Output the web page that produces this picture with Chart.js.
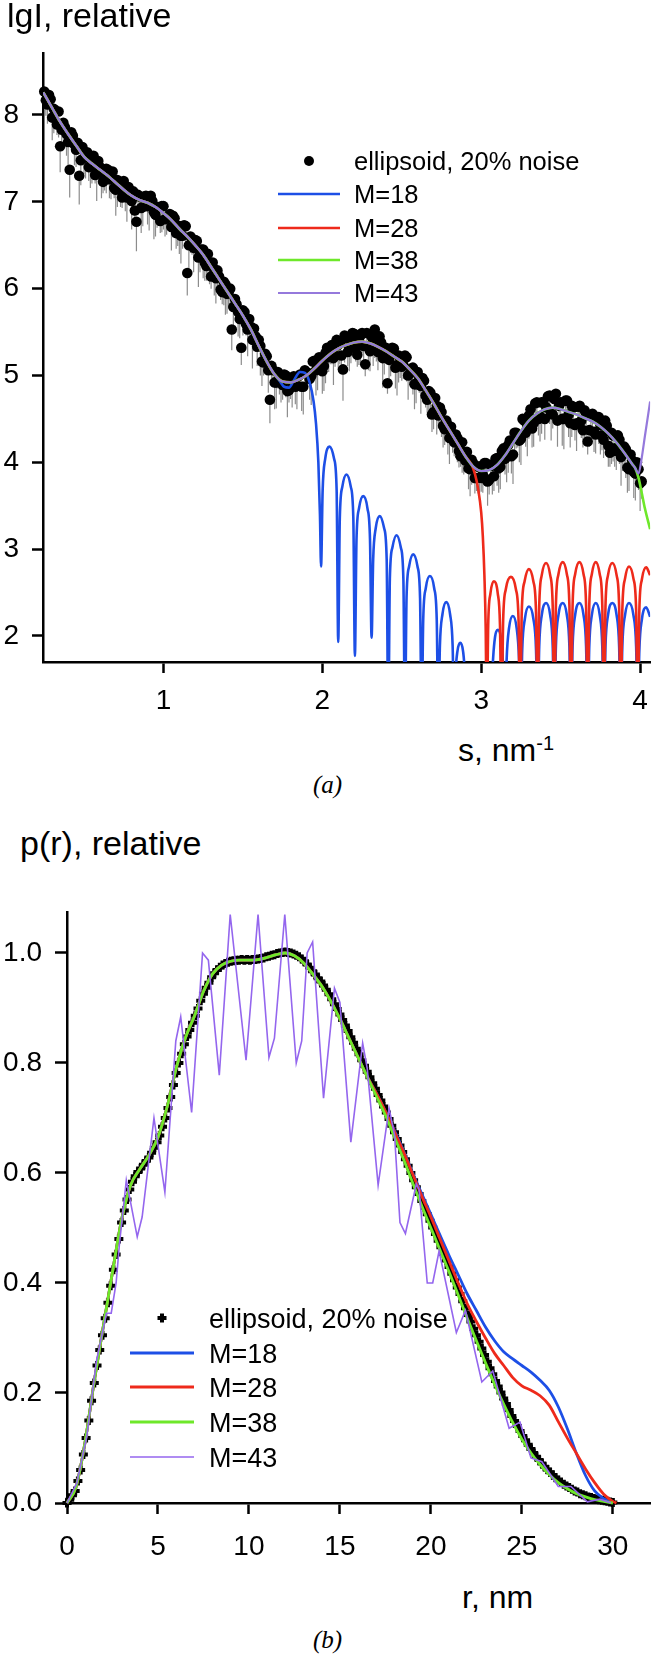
<!DOCTYPE html>
<html>
<head>
<meta charset="utf-8">
<script src="https://cdn.jsdelivr.net/npm/chart.js@4.4.1/dist/chart.umd.min.js"></script>
<style>
  body { margin: 0; background: #fff; }
  #page { position: relative; width: 659px; height: 1654px; overflow: hidden; background: #fff; font-family: "Liberation Sans", Arial, sans-serif; color: #000; }
  canvas { position: absolute; left: 0; }
  .t { position: absolute; line-height: 1; white-space: nowrap; }
  .it { font-family: "Liberation Serif", "Times New Roman", serif; font-style: italic; }
</style>
</head>
<body>
<div id="page">
  <canvas id="graphA" width="659" height="730" style="top:0"></canvas>
  <canvas id="graphB" width="659" height="700" style="top:870px"></canvas>
  <div class="t" style="left:7px;top:-2px;font-size:34px">lgI, relative</div>
  <div class="t" style="left:458px;top:733px;font-size:32px">s, nm<span style="font-size:20px;vertical-align:11px">-1</span></div>
  <div class="t it" style="left:313px;top:772px;font-size:25px">(a)</div>
  <div class="t" style="left:20px;top:826px;font-size:34px">p(r), relative</div>
  <div class="t" style="left:462px;top:1581px;font-size:32px">r, nm</div>
  <div class="t it" style="left:313px;top:1627px;font-size:25px">(b)</div>
</div>
<script>
var FONT = '"Liberation Sans", Arial, sans-serif'
var BLUE = '#1d4fe6', RED = '#ee2a1b', GREEN = '#6ee82a'

// ---- panel (a) : lgI(s) ----
var ticksAx = [1, 2, 3, 4]
var ticksAy = [2, 3, 4, 5, 6, 7, 8]

// measured points, s in nm-1 (two interleaved runs)
var sA = [0.25,0.27,0.29,0.31,0.33,0.35,0.37,0.39,0.41,0.43,
  0.45,0.47,0.49,0.51,0.53,0.55,0.57,0.59,0.61,0.63,
  0.65,0.67,0.69,0.71,0.73,0.75,0.77,0.79,0.81,0.83,
  0.85,0.87,0.89,0.91,0.93,0.95,0.97,0.99,1.01,1.03,
  1.05,1.07,1.09,1.11,1.13,1.15,1.17,1.19,1.21,1.23,
  1.25,1.27,1.29,1.31,1.33,1.35,1.37,1.39,1.41,1.43,
  1.45,1.47,1.49,1.51,1.53,1.55,1.57,1.59,1.61,1.63,
  1.65,1.67,1.69,1.71,1.73,1.75,1.77,1.79,1.81,1.83,
  1.85,1.87,1.89,1.91,1.93,1.95,1.97,1.99,2.01,2.03,
  2.05,2.07,2.09,2.11,2.13,2.15,2.17,2.19,2.21,2.23,
  2.25,2.27,2.29,2.31,2.33,2.35,2.37,2.39,2.41,2.43,
  2.45,2.47,2.49,2.51,2.53,2.55,2.57,2.59,2.61,2.63,
  2.65,2.67,2.69,2.71,2.73,2.75,2.77,2.79,2.81,2.83,
  2.85,2.87,2.89,2.91,2.93,2.95,2.97,2.99,3.01,3.03,
  3.05,3.07,3.09,3.11,3.13,3.15,3.17,3.19,3.21,3.23,
  3.25,3.27,3.29,3.31,3.33,3.35,3.37,3.39,3.41,3.43,
  3.45,3.47,3.49,3.51,3.53,3.55,3.57,3.59,3.61,3.63,
  3.65,3.67,3.69,3.71,3.73,3.75,3.77,3.79,3.81,3.83,
  3.85,3.87,3.89,3.91,3.93,3.95,3.97,3.99,4.01]
var iA = [8.27,8.12,8.18,8.07,7.89,7.64,7.91,7.78,7.37,7.76,
  7.60,7.30,7.63,7.51,7.40,7.48,7.31,7.47,7.34,7.27,
  7.37,7.29,7.16,7.25,7.14,7.24,7.05,7.07,7.12,6.77,
  7.06,6.94,7.07,6.96,7.01,6.85,6.94,6.95,6.80,6.84,
  6.71,6.81,6.72,6.61,6.73,6.18,6.60,6.47,6.55,6.41,
  6.45,6.26,6.30,6.30,6.12,6.14,5.96,6.05,5.95,5.53,
  5.88,5.73,5.32,5.73,5.53,5.56,5.54,5.33,5.34,5.15,
  5.22,4.72,5.06,4.92,5.01,4.89,5.00,4.83,4.95,4.87,
  4.99,4.87,5.06,5.03,4.99,5.17,5.09,5.20,5.11,5.32,
  5.27,5.20,5.41,5.37,5.07,5.43,5.32,5.49,5.32,5.42,
  5.49,5.13,5.34,5.45,5.53,5.27,5.38,5.27,4.91,5.29,
  5.31,5.12,5.21,5.12,5.21,5.02,5.09,4.90,4.97,4.97,
  4.77,4.82,4.55,4.74,4.54,4.58,4.38,4.43,4.41,4.23,
  4.28,4.07,4.12,4.12,3.92,3.99,3.82,3.95,3.86,3.99,
  3.80,3.96,4.04,3.93,4.13,4.04,4.20,4.07,4.34,4.32,
  4.27,4.48,4.42,4.61,4.45,4.69,4.53,4.69,4.63,4.77,
  4.55,4.79,4.65,4.50,4.71,4.55,4.65,4.43,4.64,4.48,
  4.60,4.24,4.53,4.35,4.52,4.43,4.26,4.42,4.11,4.31,
  4.13,4.26,4.09,4.15,3.92,4.02,3.87,3.92,3.78]
var sA2 = [0.26,0.28,0.30,0.32,0.34,0.36,0.38,0.40,0.42,0.44,
  0.46,0.48,0.50,0.52,0.54,0.56,0.58,0.60,0.62,0.64,
  0.66,0.68,0.70,0.72,0.74,0.76,0.78,0.80,0.82,0.84,
  0.86,0.88,0.90,0.92,0.94,0.96,0.98,1.00,1.02,1.04,
  1.06,1.08,1.10,1.12,1.14,1.16,1.18,1.20,1.22,1.24,
  1.26,1.28,1.30,1.32,1.34,1.36,1.38,1.40,1.42,1.44,
  1.46,1.48,1.50,1.52,1.54,1.56,1.58,1.60,1.62,1.64,
  1.66,1.68,1.70,1.72,1.74,1.76,1.78,1.80,1.82,1.84,
  1.86,1.88,1.90,1.92,1.94,1.96,1.98,2.00,2.02,2.04,
  2.06,2.08,2.10,2.12,2.14,2.16,2.18,2.20,2.22,2.24,
  2.26,2.28,2.30,2.32,2.34,2.36,2.38,2.40,2.42,2.44,
  2.46,2.48,2.50,2.52,2.54,2.56,2.58,2.60,2.62,2.64,
  2.66,2.68,2.70,2.72,2.74,2.76,2.78,2.80,2.82,2.84,
  2.86,2.88,2.90,2.92,2.94,2.96,2.98,3.00,3.02,3.04,
  3.06,3.08,3.10,3.12,3.14,3.16,3.18,3.20,3.22,3.24,
  3.26,3.28,3.30,3.32,3.34,3.36,3.38,3.40,3.42,3.44,
  3.46,3.48,3.50,3.52,3.54,3.56,3.58,3.60,3.62,3.64,
  3.66,3.68,3.70,3.72,3.74,3.76,3.78,3.80,3.82,3.84,
  3.86,3.88,3.90,3.92,3.94,3.96,3.98,4.00]
var iA2 = [8.17,8.23,7.97,8.05,8.04,7.83,7.86,7.69,7.80,7.66,
  7.68,7.48,7.51,7.57,7.41,7.53,7.33,7.40,7.23,7.38,
  7.26,7.35,7.14,7.23,7.05,7.15,7.17,7.01,6.90,7.08,
  6.93,7.06,6.95,7.07,6.88,6.94,6.78,6.95,6.81,6.86,
  6.84,6.64,6.72,6.61,6.72,6.50,6.52,6.56,6.36,6.45,
  6.30,6.40,6.14,6.22,6.21,5.99,6.08,5.94,6.00,5.79,
  5.82,5.65,5.75,5.59,5.65,5.41,5.45,5.41,5.16,5.25,
  5.06,5.11,4.92,5.04,4.92,5.01,4.82,4.94,4.99,4.88,
  5.01,4.87,5.03,4.96,5.16,5.06,5.21,5.05,5.26,5.21,
  5.35,5.23,5.35,5.23,5.46,5.27,5.39,5.48,5.24,5.46,
  5.34,5.49,5.28,5.41,5.31,5.45,5.20,5.32,5.18,5.32,
  5.09,5.23,5.10,5.23,5.00,5.08,4.90,5.04,4.88,4.94,
  4.72,4.80,4.58,4.65,4.63,4.42,4.48,4.28,4.33,4.32,
  4.13,4.23,4.02,3.93,4.03,3.82,3.95,3.82,3.99,3.78,
  3.97,3.84,4.05,3.95,4.16,4.07,4.25,4.09,4.34,4.25,
  4.50,4.34,4.54,4.39,4.68,4.50,4.69,4.50,4.76,4.56,
  4.73,4.48,4.69,4.50,4.71,4.45,4.63,4.45,4.65,4.37,
  4.56,4.37,4.56,4.32,4.52,4.31,4.48,4.19,4.34,4.16,
  4.31,4.06,4.18,3.94,4.09,3.89,4.00,3.76]
// lower error bar lengths
var errA = [0.10,0.22,0.14,0.28,0.12,0.30,0.18,0.25,0.32,0.15,
  0.20,0.33,0.12,0.24,0.16,0.27,0.10,0.22,0.30,0.14,
  0.18,0.26,0.12,0.31,0.20,0.15,0.28,0.11,0.24,0.34,
  0.16,0.22,0.13,0.29,0.18,0.25,0.12,0.30,0.20,0.16,
  0.27,0.14,0.23,0.32,0.11,0.26,0.19,0.28,0.15,0.22,
  0.33,0.17,0.25,0.12,0.29,0.21,0.14,0.35,0.18,0.24,
  0.13,0.28,0.20,0.16,0.31,0.12,0.26,0.22,0.34,0.15,
  0.19,0.27,0.11,0.30,0.23,0.17,0.25,0.14,0.32,0.20,
  0.16,0.28,0.22,0.12,0.33,0.18,0.26,0.15,0.29,0.21,
  0.14,0.31,0.19,0.24,0.36,0.12,0.27,0.20,0.16,0.30,
  0.23,0.14,0.28,0.18,0.33,0.21,0.15,0.26,0.12,0.30,
  0.19,0.35,0.24,0.16,0.28,0.13,0.31,0.22,0.17,0.27,
  0.14,0.32,0.20,0.25,0.15,0.29,0.18,0.34,0.22,0.16,
  0.28,0.12,0.26,0.19,0.31,0.23,0.15,0.30,0.21,0.27,
  0.17,0.33,0.14,0.28,0.24,0.18,0.32,0.20,0.26,0.15,
  0.30,0.22,0.35,0.17,0.27,0.13,0.29,0.24,0.19,0.33,
  0.16,0.28,0.21,0.31,0.14,0.26,0.36,0.18,0.25,0.20,
  0.32,0.15,0.29,0.23,0.18,0.34,0.21,0.27,0.16,0.30,
  0.22,0.28,0.19,0.33,0.25,0.17,0.31,0.24,0.20]
var errA2 = [0.18,0.12,0.26,0.15,0.30,0.20,0.13,0.27,0.17,0.24,
  0.14,0.29,0.19,0.11,0.25,0.16,0.32,0.21,0.13,0.28,
  0.22,0.15,0.30,0.18,0.12,0.26,0.20,0.33,0.16,0.23,
  0.29,0.13,0.21,0.17,0.31,0.24,0.14,0.27,0.19,0.12,
  0.25,0.18,0.32,0.15,0.22,0.28,0.13,0.20,0.34,0.16,
  0.21,0.26,0.14,0.30,0.19,0.12,0.27,0.23,0.17,0.31,
  0.15,0.22,0.29,0.13,0.25,0.33,0.18,0.12,0.28,0.20,
  0.26,0.14,0.31,0.19,0.23,0.16,0.30,0.21,0.13,0.27,
  0.18,0.32,0.15,0.24,0.20,0.29,0.12,0.26,0.35,0.17,
  0.22,0.13,0.28,0.19,0.31,0.16,0.25,0.21,0.14,0.33,
  0.27,0.18,0.23,0.30,0.15,0.20,0.34,0.13,0.26,0.19,
  0.24,0.31,0.16,0.22,0.28,0.14,0.29,0.18,0.32,0.21,
  0.15,0.26,0.20,0.33,0.17,0.25,0.13,0.30,0.22,0.27,
  0.19,0.35,0.14,0.24,0.29,0.18,0.31,0.16,0.23,0.28,
  0.21,0.17,0.32,0.26,0.15,0.30,0.20,0.34,0.18,0.25,
  0.29,0.16,0.27,0.22,0.33,0.19,0.36,0.24,0.17,0.31,
  0.23,0.30,0.18,0.35,0.21,0.28,0.16,0.32,0.25,0.20,
  0.34,0.19,0.27,0.22,0.31,0.17,0.29,0.24,0.36,0.21,
  0.26,0.33,0.20,0.29,0.23,0.30,0.25,0.32]

// common fitted curve (all M follow it at low s)
var fitS = [0.244,0.30,0.35,0.40,0.45,0.50,0.55,0.60,0.65,0.70,0.75,0.80,0.85,0.90,0.95,
  1.00,1.05,1.10,1.15,1.20,1.25,1.30,1.35,1.40,1.45,1.50,1.55,1.60,1.65,1.70,1.75,1.80,1.85,1.90,1.95,
  2.00,2.05,2.10,2.15,2.20,2.25,2.30,2.35,2.40,2.45,2.50,2.55,2.60,2.65,2.70,2.75,2.80,2.85,2.90,2.95,
  3.00,3.05,3.10,3.15,3.20,3.25,3.30,3.35,3.40,3.45,3.50,3.55,3.60,3.65,3.70,3.75,3.80,3.85,3.90,3.95,3.97]
var fitI = [8.26,8.08,7.92,7.78,7.65,7.52,7.44,7.37,7.30,7.22,7.14,7.07,7.02,6.99,6.94,
  6.87,6.79,6.69,6.60,6.50,6.39,6.25,6.11,5.97,5.83,5.69,5.53,5.34,5.16,5.01,4.93,4.92,4.95,5.00,5.08,
  5.17,5.25,5.31,5.35,5.38,5.39,5.37,5.33,5.28,5.22,5.16,5.07,4.97,4.83,4.68,4.52,4.37,4.22,4.07,3.95,
  3.90,3.91,3.97,4.08,4.22,4.36,4.48,4.56,4.61,4.63,4.61,4.58,4.55,4.51,4.47,4.41,4.33,4.23,4.11,3.98,3.93]

// M=18 leaves the curve near s=1.7
var m18S = [1.73,1.76,1.79,1.82,1.86,1.89,1.92,1.945,1.96,1.975,1.985,1.992,
  2.002,2.018,2.045,2.074,2.09,2.10,
  2.11,2.126,2.152,2.179,2.195,2.205,
  2.215,2.231,2.257,2.284,2.30,2.31,
  2.32,2.336,2.362,2.389,2.405,2.415,
  2.425,2.441,2.467,2.494,2.51,2.52,
  2.53,2.546,2.572,2.599,2.615,2.625,
  2.635,2.651,2.677,2.704,2.72,2.73,
  2.74,2.756,2.78,2.804,2.82,2.83,
  2.838,2.85,2.868,2.886,2.897,2.905,
  3.06,
  3.07,3.083,3.105,3.127,3.14,3.15,
  3.16,3.175,3.199,3.223,3.238,3.248,
  3.258,3.275,3.30,3.328,3.345,3.355,
  3.365,3.381,3.408,3.434,3.45,3.46,
  3.47,3.486,3.513,3.539,3.555,3.565,
  3.575,3.591,3.618,3.644,3.66,3.67,
  3.68,3.696,3.721,3.746,3.762,3.772,
  3.782,3.798,3.825,3.852,3.868,3.878,
  3.888,3.905,3.93,3.958,3.975,3.985,
  3.995,4.011,4.038,4.063]
var m18I = [4.94,4.87,4.86,4.94,5.04,5.03,4.92,4.70,4.45,4.00,3.40,2.80,
  3.68,4.04,4.18,4.04,3.68,1.93,
  3.36,3.72,3.86,3.72,3.36,1.77,
  3.11,3.47,3.61,3.47,3.11,1.98,
  2.88,3.24,3.38,3.24,2.88,1.0,
  2.66,3.02,3.16,3.02,2.66,1.0,
  2.44,2.80,2.94,2.80,2.44,1.0,
  2.19,2.55,2.69,2.55,2.19,1.0,
  1.89,2.25,2.39,2.25,1.89,1.0,
  1.55,1.82,1.92,1.82,1.55,1.0,
  1.0,
  1.57,1.93,2.07,1.93,1.57,1.0,
  1.73,2.09,2.23,2.09,1.73,1.0,
  1.84,2.20,2.34,2.20,1.84,1.0,
  1.88,2.24,2.38,2.24,1.88,1.0,
  1.88,2.24,2.38,2.24,1.88,1.0,
  1.88,2.24,2.38,2.24,1.88,1.0,
  1.88,2.24,2.38,2.24,1.88,1.0,
  1.88,2.24,2.38,2.24,1.88,1.0,
  1.88,2.24,2.38,2.24,1.88,1.0,
  1.83,2.19,2.33,2.22]

// M=28 leaves the curve near s=2.9
var m28S = [2.94,2.96,2.98,3.00,3.01,3.02,3.028,3.035,
  3.044,3.058,3.08,3.104,3.118,3.128,
  3.138,3.155,3.187,3.218,3.235,3.245,
  3.255,3.273,3.30,3.328,3.345,3.355,
  3.365,3.381,3.408,3.434,3.45,3.46,
  3.47,3.486,3.513,3.539,3.555,3.565,
  3.575,3.591,3.618,3.644,3.66,3.67,
  3.68,3.696,3.721,3.746,3.762,3.772,
  3.782,3.798,3.825,3.852,3.868,3.878,
  3.888,3.905,3.93,3.958,3.975,3.985,
  3.995,4.011,4.038,4.063]
var m28I = [3.97,3.87,3.70,3.42,3.15,2.70,2.10,1.0,
  2.13,2.49,2.63,2.49,2.13,1.0,
  2.18,2.54,2.68,2.54,2.18,1.0,
  2.27,2.63,2.77,2.63,2.27,1.0,
  2.34,2.70,2.84,2.70,2.34,1.0,
  2.35,2.71,2.85,2.71,2.35,1.0,
  2.35,2.71,2.85,2.71,2.35,1.0,
  2.35,2.71,2.85,2.71,2.35,1.0,
  2.34,2.70,2.84,2.70,2.34,1.0,
  2.30,2.66,2.80,2.66,2.30,1.0,
  2.29,2.65,2.79,2.70]

var m38S = [3.99,4.01,4.03,4.063]
var m38I = [3.82,3.65,3.47,3.23]
var m43S = [3.99,4.01,4.03,4.063]
var m43I = [3.87,4.05,4.30,4.70]

// ---- panel (b) : p(r) ----
var ticksBx = [0, 5, 10, 15, 20, 25, 30]
var ticksBy = [0, 0.2, 0.4, 0.6, 0.8, 1.0]

var rB = [0,0.15,0.3,0.45,0.6,0.75,0.9,1.05,1.2,1.35,
  1.5,1.65,1.8,1.95,2.1,2.25,2.4,2.55,2.7,2.85,
  3,3.15,3.3,3.45,3.6,3.75,3.9,4.05,4.2,4.35,
  4.5,4.65,4.8,4.95,5.1,5.25,5.4,5.55,5.7,5.85,
  6,6.15,6.3,6.45,6.6,6.75,6.9,7.05,7.2,7.35,
  7.5,7.65,7.8,7.95,8.1,8.25,8.4,8.55,8.7,8.85,
  9,9.15,9.3,9.45,9.6,9.75,9.9,10.05,10.2,10.35,
  10.5,10.65,10.8,10.95,11.1,11.25,11.4,11.55,11.7,11.85,
  12,12.15,12.3,12.45,12.6,12.75,12.9,13.05,13.2,13.35,
  13.5,13.65,13.8,13.95,14.1,14.25,14.4,14.55,14.7,14.85,
  15,15.15,15.3,15.45,15.6,15.75,15.9,16.05,16.2,16.35,
  16.5,16.65,16.8,16.95,17.1,17.25,17.4,17.55,17.7,17.85,
  18,18.15,18.3,18.45,18.6,18.75,18.9,19.05,19.2,19.35,
  19.5,19.65,19.8,19.95,20.1,20.25,20.4,20.55,20.7,20.85,
  21,21.15,21.3,21.45,21.6,21.75,21.9,22.05,22.2,22.35,
  22.5,22.65,22.8,22.95,23.1,23.25,23.4,23.55,23.7,23.85,
  24,24.15,24.3,24.45,24.6,24.75,24.9,25.05,25.2,25.35,
  25.5,25.65,25.8,25.95,26.1,26.25,26.4,26.55,26.7,26.85,
  27,27.15,27.3,27.45,27.6,27.75,27.9,28.05,28.2,28.35,
  28.5,28.65,28.8,28.95,29.1,29.25,29.4,29.55,29.7,29.85,
  30]
var pB = [0.000,0.006,0.014,0.022,0.040,0.060,0.088,0.118,0.150,0.186,
  0.218,0.250,0.278,0.305,0.336,0.364,0.395,0.424,0.452,0.480,
  0.510,0.532,0.552,0.570,0.584,0.594,0.602,0.608,0.615,0.622,
  0.628,0.637,0.646,0.656,0.668,0.684,0.700,0.718,0.738,0.760,
  0.782,0.800,0.817,0.834,0.848,0.860,0.873,0.886,0.899,0.913,
  0.926,0.937,0.946,0.956,0.963,0.969,0.974,0.978,0.981,0.983,
  0.985,0.986,0.987,0.987,0.988,0.987,0.988,0.987,0.988,0.988,
  0.989,0.990,0.991,0.993,0.994,0.996,0.997,0.999,1.000,1.001,
  1.002,1.001,1.000,0.998,0.996,0.993,0.989,0.985,0.979,0.973,
  0.967,0.961,0.954,0.948,0.941,0.933,0.925,0.916,0.907,0.898,
  0.888,0.878,0.868,0.858,0.847,0.837,0.826,0.816,0.805,0.795,
  0.784,0.774,0.763,0.753,0.742,0.732,0.721,0.710,0.698,0.686,
  0.674,0.662,0.650,0.638,0.625,0.613,0.600,0.587,0.574,0.562,
  0.549,0.537,0.525,0.513,0.501,0.489,0.477,0.465,0.453,0.441,
  0.429,0.417,0.405,0.392,0.380,0.367,0.354,0.342,0.330,0.317,
  0.305,0.293,0.281,0.269,0.257,0.245,0.234,0.222,0.212,0.201,
  0.190,0.180,0.169,0.158,0.149,0.140,0.131,0.122,0.114,0.106,
  0.098,0.091,0.084,0.078,0.072,0.066,0.061,0.056,0.051,0.046,
  0.042,0.038,0.034,0.031,0.028,0.025,0.022,0.020,0.017,0.015,
  0.013,0.011,0.010,0.008,0.007,0.006,0.005,0.004,0.003,0.002,
  0.001]

// M=38 (shared with M=18 / M=28 up to r=16.5)
var gR = [0,0.5,1,1.5,2,2.5,3,3.5,4,4.5,5,5.5,6,6.5,7,7.5,8,8.5,9,9.5,
  10,10.5,11,11.5,12,12.5,13,13.5,14,14.5,15,15.5,16,16.5,17,17.5,18,18.5,19,19.5,
  20,20.5,21,21.5,22,22.5,23,23.5,24,24.5,25,25.5,26,26.5,27,27.5,28,28.5,29,29.5,30]
var gP = [0,0.03,0.112,0.222,0.322,0.42,0.515,0.578,0.607,0.632,0.665,0.72,0.79,0.845,0.885,0.93,0.962,0.978,0.985,0.987,
  0.987,0.988,0.992,0.997,1.0,0.995,0.982,0.962,0.94,0.912,0.88,0.845,0.81,0.775,0.74,0.705,0.665,0.625,0.582,0.54,
  0.5,0.46,0.42,0.378,0.336,0.295,0.255,0.216,0.18,0.146,0.116,0.091,0.07,0.052,0.037,0.026,0.017,0.011,0.006,0.003,0]

var b18R = [17,17.5,18,18.5,19,19.5,20,20.5,21,21.5,22,22.5,23,23.5,24,24.5,25,25.5,26,26.5,27,27.5,28,28.5,29,29.5,30]
var b18P = [0.745,0.712,0.677,0.64,0.60,0.562,0.525,0.487,0.45,0.415,0.38,0.35,0.32,0.295,0.275,0.262,0.25,0.238,0.223,0.205,0.175,0.135,0.09,0.05,0.022,0.008,0]
var b28R = [17,17.5,18,18.5,19,19.5,20,20.5,21,21.5,22,22.5,23,23.5,24,24.5,25,25.5,26,26.5,27,27.5,28,28.5,29,29.5,30,30.2]
var b28P = [0.745,0.712,0.675,0.638,0.598,0.558,0.52,0.48,0.44,0.40,0.362,0.33,0.30,0.272,0.25,0.228,0.213,0.205,0.195,0.178,0.148,0.118,0.09,0.062,0.037,0.016,0.003,0]

var b43R = [0,0.54,1.08,1.63,2.17,2.43,2.7,2.88,3.26,3.86,4.13,4.78,5.38,5.98,6.25,6.85,7.45,7.77,8.37,8.97,
  9.84,10.5,11.1,11.4,11.97,12.6,12.9,13.2,13.5,14.1,14.7,15.0,15.6,16.25,16.5,17.1,17.7,18.0,18.3,18.6,
  19.2,19.35,19.8,20.1,20.45,21.4,21.9,22.8,23.4,24.3,24.9,25.5,26.1,27.0,27.7,28.6,29.3,29.9]
var b43P = [0,0.036,0.12,0.26,0.345,0.345,0.40,0.47,0.587,0.484,0.52,0.70,0.565,0.84,0.884,0.71,1.0,0.987,0.778,1.07,
  0.805,1.07,0.81,0.845,1.07,0.80,0.84,1.0,1.02,0.736,0.936,0.91,0.656,0.836,0.79,0.578,0.718,0.67,0.51,0.49,
  0.58,0.57,0.40,0.40,0.458,0.31,0.35,0.22,0.24,0.136,0.147,0.082,0.075,0.03,0.03,0.002,0.007,0]


function pts(xs, ys) {
    return xs.map(function (x, i) { return { x: x, y: ys[i] } })
}
function upTo(list, lim) {
    return list.filter(function (p) { return p.x <= lim })
}

function xAxis(min, max, ticks, height, tickLen, pad, fmt) {
    return {
        type: 'linear', min: min, max: max,
        afterFit: function (s) { s.height = height },
        afterBuildTicks: function (s) { s.ticks = ticks.map(function (v) { return { value: v } }) },
        grid: { drawOnChartArea: false, drawTicks: true, tickLength: tickLen, tickWidth: 2.5, tickColor: '#000' },
        border: { display: true, color: '#000', width: 2.5 },
        ticks: { color: '#000', font: { family: FONT, size: 28 }, padding: pad, maxRotation: 0, autoSkip: false, callback: fmt }
    }
}
function yAxis(min, max, ticks, width, tickLen, pad, fmt) {
    return {
        type: 'linear', min: min, max: max,
        afterFit: function (s) { s.width = width },
        afterBuildTicks: function (s) { s.ticks = ticks.map(function (v) { return { value: v } }) },
        grid: { drawOnChartArea: false, drawTicks: true, tickLength: tickLen, tickWidth: 2.5, tickColor: '#000' },
        border: { display: true, color: '#000', width: 2.5 },
        ticks: { color: '#000', font: { family: FONT, size: 28 }, padding: pad, autoSkip: false, callback: fmt }
    }
}

// legend drawn inside the plot, like the original figure
function makeLegend(cfg) {
    return {
        id: 'boxLegend',
        afterDraw: function (chart) {
            var ctx = chart.ctx
            ctx.save()
            ctx.font = cfg.size + 'px ' + FONT
            ctx.textBaseline = 'alphabetic'
            chart.data.datasets.forEach(function (ds, i) {
                var y = cfg.rows[i]
                if (ds.showLine === false) {
                    ctx.fillStyle = '#000'
                    ctx.strokeStyle = '#000'
                    if (ds.pointStyle === 'cross') {
                        ctx.lineWidth = ds.pointBorderWidth
                        ctx.beginPath()
                        ctx.moveTo(cfg.mark - ds.pointRadius, y); ctx.lineTo(cfg.mark + ds.pointRadius, y)
                        ctx.moveTo(cfg.mark, y - ds.pointRadius); ctx.lineTo(cfg.mark, y + ds.pointRadius)
                        ctx.stroke()
                    } else {
                        ctx.beginPath()
                        ctx.arc(cfg.mark, y, 5, 0, Math.PI * 2)
                        ctx.fill()
                    }
                } else {
                    ctx.strokeStyle = ds.borderColor
                    ctx.lineWidth = ds.borderWidth
                    ctx.beginPath()
                    ctx.moveTo(cfg.x0, y); ctx.lineTo(cfg.x1, y)
                    ctx.stroke()
                }
                ctx.fillStyle = '#000'
                ctx.fillText(ds.label, cfg.text, y + cfg.shift)
            })
            ctx.restore()
        }
    }
}

var allI = iA.concat(iA2)
var allErr = errA.concat(errA2)

// grey error bars under the measured points of (a)
var errBars = {
    id: 'errBars',
    beforeDatasetsDraw: function (chart) {
        var ctx = chart.ctx, a = chart.chartArea, ys = chart.scales.y
        var meta = chart.getDatasetMeta(0)
        ctx.save()
        ctx.beginPath()
        ctx.rect(a.left, a.top, a.right - a.left, a.bottom - a.top)
        ctx.clip()
        ctx.strokeStyle = '#8c8c8c'
        ctx.lineWidth = 1.2
        meta.data.forEach(function (pt, i) {
            ctx.beginPath()
            ctx.moveTo(pt.x, pt.y)
            ctx.lineTo(pt.x, ys.getPixelForValue(allI[i] - allErr[i]))
            ctx.stroke()
        })
        ctx.restore()
    }
}

var fitPts = pts(fitS, fitI)

var chartA = new Chart(document.getElementById('graphA'), {
    type: 'line',
    data: {
        datasets: [{
            label: 'ellipsoid, 20% noise',
            data: pts(sA, iA).concat(pts(sA2, iA2)),
            showLine: false,
            pointStyle: 'circle',
            pointRadius: 5.3,
            pointBackgroundColor: '#000',
            pointBorderWidth: 0,
            clip: false,
            order: 5
        }, {
            label: 'M=18',
            data: upTo(fitPts, 1.71).concat(pts(m18S, m18I)),
            borderColor: BLUE, borderWidth: 2.6, pointRadius: 0,
            cubicInterpolationMode: 'monotone', fill: false, order: 4
        }, {
            label: 'M=28',
            data: upTo(fitPts, 2.92).concat(pts(m28S, m28I)),
            borderColor: RED, borderWidth: 2.6, pointRadius: 0,
            cubicInterpolationMode: 'monotone', fill: false, order: 3
        }, {
            label: 'M=38',
            data: fitPts.concat(pts(m38S, m38I)),
            borderColor: GREEN, borderWidth: 2.6, pointRadius: 0,
            cubicInterpolationMode: 'monotone', fill: false, order: 2
        }, {
            label: 'M=43',
            data: fitPts.concat(pts(m43S, m43I)),
            borderColor: '#9579dc', borderWidth: 2.2, pointRadius: 0,
            cubicInterpolationMode: 'monotone', fill: false, order: 1
        }]
    },
    options: {
        responsive: false,
        animation: false,
        events: [],
        layout: { padding: { left: 0, top: 53, right: 6, bottom: 0 } },
        plugins: { legend: { display: false }, tooltip: { enabled: false } },
        scales: {
            x: xAxis(0.242, 4.063, ticksAx, 68, 11, 11, function (v) { return v }),
            y: yAxis(1.70, 8.714, ticksAy, 43, 11, 13, function (v) { return v })
        }
    },
    plugins: [errBars, makeLegend({ rows: [161, 194, 228, 260, 293], mark: 309, x0: 278, x1: 340, text: 354, size: 25.5, shift: 9 })]
})

var greenPts = pts(gR, gP)

var chartB = new Chart(document.getElementById('graphB'), {
    type: 'line',
    data: {
        datasets: [{
            label: 'ellipsoid, 20% noise',
            data: pts(rB, pB),
            showLine: false,
            pointStyle: 'cross',
            pointRadius: 4.5,
            pointBorderWidth: 4,
            pointBorderColor: '#000',
            pointBackgroundColor: '#000',
            clip: false,
            order: 5
        }, {
            label: 'M=18',
            data: upTo(greenPts, 16.5).concat(pts(b18R, b18P)),
            borderColor: BLUE, borderWidth: 2.8, pointRadius: 0,
            cubicInterpolationMode: 'monotone', fill: false, clip: false, order: 4
        }, {
            label: 'M=28',
            data: upTo(greenPts, 16.5).concat(pts(b28R, b28P)),
            borderColor: RED, borderWidth: 2.8, pointRadius: 0,
            cubicInterpolationMode: 'monotone', fill: false, clip: false, order: 3
        }, {
            label: 'M=38',
            data: greenPts,
            borderColor: GREEN, borderWidth: 2.8, pointRadius: 0,
            cubicInterpolationMode: 'monotone', fill: false, clip: false, order: 2
        }, {
            label: 'M=43',
            data: pts(b43R, b43P),
            borderColor: '#9466ee', borderWidth: 1.6, pointRadius: 0,
            tension: 0, fill: false, clip: false, order: 1
        }]
    },
    options: {
        responsive: false,
        animation: false,
        events: [],
        layout: { padding: { left: 0, top: 42, right: 1, bottom: 0 } },
        plugins: { legend: { display: false }, tooltip: { enabled: false } },
        scales: {
            x: xAxis(0, 32.07, ticksBx, 67, 11, 16, function (v) { return v }),
            y: yAxis(0, 1.0745, ticksBy, 67, 12, 13, function (v) { return Number(v).toFixed(1) })
        }
    },
    plugins: [makeLegend({ rows: [448, 483, 517, 552, 587], mark: 162, x0: 130, x1: 194, text: 209, size: 27, shift: 9.7 })]
})
</script>
</body>
</html>
